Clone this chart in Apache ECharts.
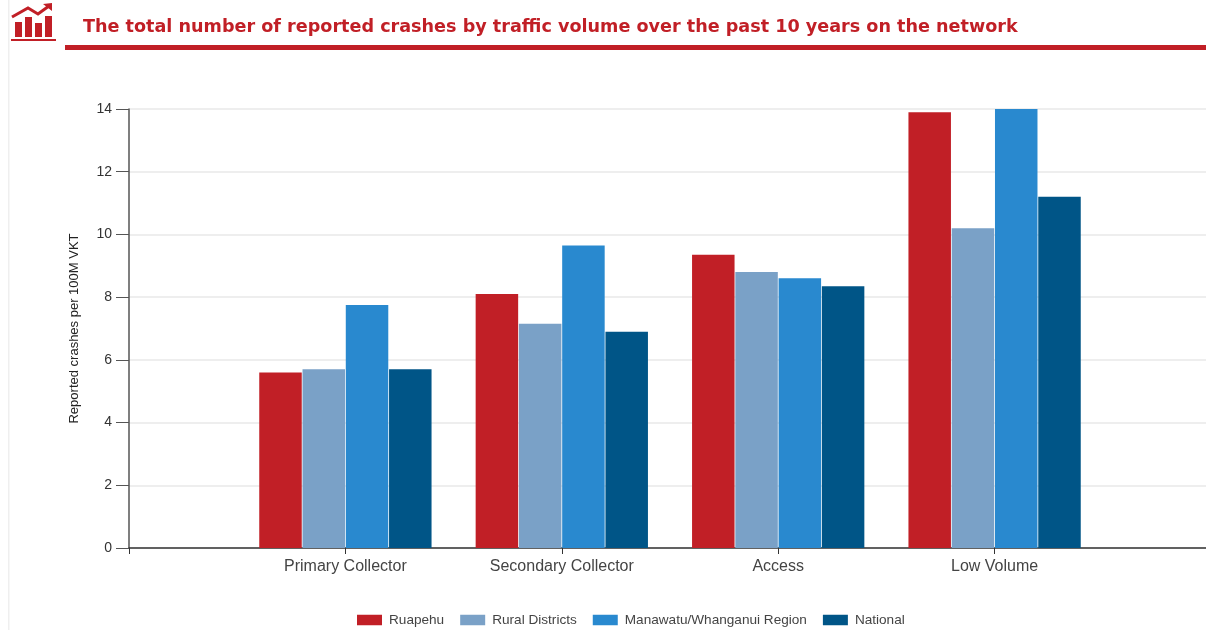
<!DOCTYPE html>
<html><head><meta charset="utf-8">
<style>html,body{margin:0;padding:0;background:#fff}#c{width:1206px;height:630px}</style>
<script src="https://cdn.jsdelivr.net/npm/echarts@6/dist/echarts.min.js"></script>
</head><body><div id="c"></div>
<script>
const categories = ["", "Primary Collector", "Secondary Collector", "Access", "Low Volume", ""];
const ruapehu = [null, 5.6, 8.1, 9.35, 13.9, null];
const ruralDistricts = [null, 5.7, 7.15, 8.8, 10.2, null];
const region = [null, 7.75, 9.65, 8.6, 14, null];
const national = [null, 5.7, 6.9, 8.35, 11.2, null];
const titleText = "The total number of reported crashes by traffic volume over the past 10 years on the network";
const yName = "Reported crashes per 100M VKT";
const RED = "#c11f26";
const chart = echarts.init(document.getElementById('c'), null, {renderer:'canvas'});
const mk = (name, data, color) => ({name, type:'bar', data, barWidth:42.5, barGap:'1.8%',
  itemStyle:{color}, silent:true, animation:false});
const red = {fill:RED};
chart.setOption({
  animation:false,
  backgroundColor:'#fff',
  title:{text:titleText, left:78, top:13, textStyle:{color:RED, fontFamily:'"DejaVu Sans"', fontWeight:'bold', fontSize:17.6}},
  legend:{left:352, top:608, itemWidth:25, itemHeight:10.5, itemGap:16, icon:'rect',
    textStyle:{color:'#444', fontFamily:'"Liberation Sans"', fontSize:13.6, padding:[0,0,0,2]},
    data:['Ruapehu','Rural Districts','Manawatu/Whanganui Region','National']},
  grid:{left:129, top:109, width:1082, height:439, containLabel:false, outerBoundsMode:'none'},
  xAxis:{type:'category', data:categories, boundaryGap:false,
    axisLine:{lineStyle:{color:'#333', width:1.5}},
    axisTick:{show:true, length:6, lineStyle:{color:'#333'}, alignWithLabel:true},
    axisLabel:{color:'#444', fontFamily:'"Liberation Sans"', fontSize:16, margin:11, interval:0},
    splitLine:{show:false}},
  yAxis:{type:'value', min:0, max:14, interval:2, name:yName, nameLocation:'middle', nameGap:48,
    nameTextStyle:{color:'#222', fontFamily:'"Liberation Sans"', fontSize:13},
    axisLine:{show:true, lineStyle:{color:'#555', width:1.5}},
    axisTick:{show:true, length:13, lineStyle:{color:'#555'}},
    axisLabel:{color:'#333', fontFamily:'"Liberation Sans"', fontSize:14, margin:17},
    splitLine:{show:true, lineStyle:{color:'#e8e8e8', width:1.5}}},
  series:[mk('Ruapehu',ruapehu,RED), mk('Rural Districts',ruralDistricts,'#7aa1c7'),
          mk('Manawatu/Whanganui Region',region,'#2989cf'), mk('National',national,'#005587')],
  graphic:[
    {type:'rect', shape:{x:8,y:0,width:1.5,height:630}, style:{fill:'#efefef'}, silent:true},
    {type:'rect', shape:{x:65,y:45,width:1141,height:5}, style:red, silent:true},
    {type:'rect', shape:{x:11,y:39,width:45,height:2}, style:red, silent:true},
    {type:'rect', shape:{x:15,y:22,width:7,height:15}, style:red, silent:true},
    {type:'rect', shape:{x:25,y:17,width:7,height:20}, style:red, silent:true},
    {type:'rect', shape:{x:35,y:23,width:7,height:14}, style:red, silent:true},
    {type:'rect', shape:{x:45,y:16,width:7,height:21}, style:red, silent:true},
    {type:'polyline', shape:{points:[[12,17],[28,8],[38,14],[49,6]]}, style:{stroke:RED, lineWidth:3, fill:null}, silent:true},
    {type:'polygon', shape:{points:[[43,4],[52,3],[52,11]]}, style:red, silent:true}
  ]
});
</script></body></html>
